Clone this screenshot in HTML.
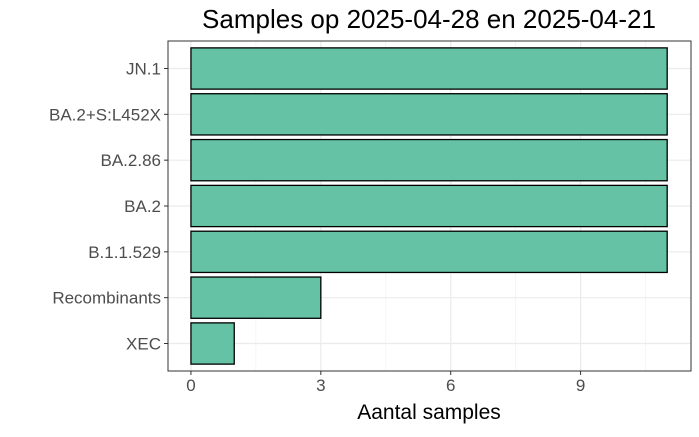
<!DOCTYPE html>
<html><head><meta charset="utf-8"><style>
body{margin:0;background:#fff;font-family:"Liberation Sans",sans-serif}
</style></head><body>
<svg id="chart" width="699" height="432" xmlns="http://www.w3.org/2000/svg">
<text x="429" y="28" text-anchor="middle" font-size="26" fill="#000">Samples op 2025-04-28 en 2025-04-21</text>
<text x="429" y="419" text-anchor="middle" font-size="21" fill="#000">Aantal samples</text>
<g id="grid"></g><g id="bars"></g><g id="axes"></g>
</svg>
<script>
const categories=["JN.1","BA.2+S:L452X","BA.2.86","BA.2","B.1.1.529","Recombinants","XEC"];
const values=[11,11,11,11,11,3,1];
const xTicks=[0,3,6,9];
const NS="http://www.w3.org/2000/svg";
const L=168,R=691,T=41,B=371;
const xmin=-0.53,xmax=11.55;
const xs=v=>L+(v-xmin)/(xmax-xmin)*(R-L);
const n=categories.length;
const step=(B-T)/(n+0.2);
const ys=i=>T+step*(0.6+i);
function mk(tag,attrs,parent){const e=document.createElementNS(NS,tag);for(const k in attrs)e.setAttribute(k,attrs[k]);document.getElementById(parent).appendChild(e);return e;}
// minor grid
for(let t=1.5;t<xmax;t+=3){const g=mk("line",{x1:xs(t),x2:xs(t),y1:T,y2:B,stroke:"#f2f2f2","stroke-width":0.7},"grid");

}
xTicks.forEach(t=>{const g=mk("line",{x1:xs(t),x2:xs(t),y1:T,y2:B,stroke:"#ebebeb","stroke-width":1.2},"grid");


const tk=mk("line",{x1:xs(t),x2:xs(t),y1:B,y2:B+4,stroke:"#333","stroke-width":1},"axes");


const tx=mk("text",{x:xs(t),y:B+20,"text-anchor":"middle","font-size":17,fill:"#4d4d4d"},"axes");
tx.textContent=t;

});
categories.forEach((c,i)=>{const y=ys(i);
const g=mk("line",{x1:L,x2:R,y1:y,y2:y,stroke:"#ebebeb","stroke-width":1.2},"grid");


const h=step*0.9;
const b=mk("rect",{x:xs(0),y:y-h/2,width:xs(values[i])-xs(0),height:h,fill:"#66c2a5",stroke:"#000","stroke-width":1.3},"bars");


const tk=mk("line",{x1:L-4,x2:L,y1:y,y2:y,stroke:"#333","stroke-width":1},"axes");


const tx=mk("text",{x:L-7,y:y+6,"text-anchor":"end","font-size":17,fill:"#4d4d4d"},"axes");
tx.textContent=c;

});
const p=mk("rect",{x:L,y:T,width:R-L,height:B-T,fill:"none",stroke:"#333","stroke-width":1},"axes");


</script>
</body></html>
